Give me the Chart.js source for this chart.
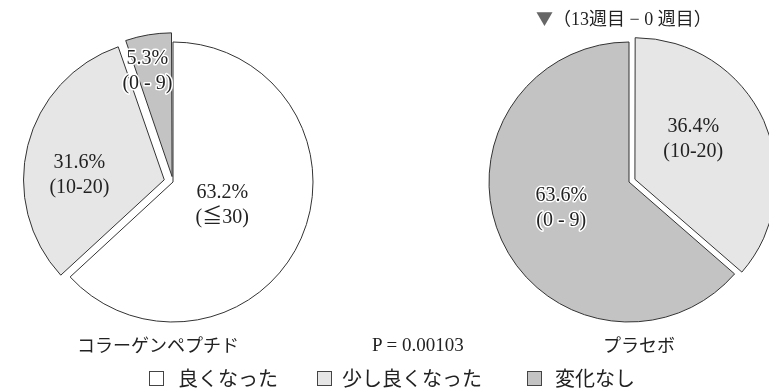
<!DOCTYPE html>
<html>
<head>
<meta charset="utf-8">
<script src="https://cdn.jsdelivr.net/npm/chart.js@4/dist/chart.umd.min.js"></script>
<style>
  html, body { margin: 0; padding: 0; background: #fff; }
  #wrap { position: relative; width: 769px; height: 390px; overflow: hidden; background: #fff; }
  canvas { position: absolute; }
  .t { position: absolute; white-space: nowrap; color: #222; font-family: "Liberation Serif", "Noto Sans CJK JP", serif; }
  .jp { font-family: "Noto Sans CJK JP", sans-serif; }
  .box { position: absolute; width: 13px; height: 13px; border: 1px solid #444; }
</style>
</head>
<body>
<div id="wrap">
  <canvas id="collagenChart" width="340" height="340" style="left:3px;top:12px"></canvas>
  <canvas id="placeboChart" width="340" height="340" style="left:459px;top:12px"></canvas>

  <div class="t" style="left:536px;top:9px;font-size:18px;line-height:18px"><span class="jp" style="color:#666;font-size:17px">▼</span>（13週目 − 0 週目）</div>

  <div class="t jp" style="left:77px;top:335px;font-size:18px;line-height:18px">コラーゲンペプチド</div>
  <div class="t" style="left:372px;top:335px;font-size:19px;line-height:19px">P = 0.00103</div>
  <div class="t jp" style="left:603px;top:335px;font-size:18px;line-height:18px">プラセボ</div>

  <div class="box" style="left:149px;top:371px;background:#fff"></div>
  <div class="t jp" style="left:178px;top:368px;font-size:20px;line-height:20px">良くなった</div>
  <div class="box" style="left:317px;top:371px;background:#e6e6e6"></div>
  <div class="t jp" style="left:342px;top:368px;font-size:20px;line-height:20px">少し良くなった</div>
  <div class="box" style="left:527px;top:371px;background:#c3c3c3"></div>
  <div class="t jp" style="left:555px;top:368px;font-size:20px;line-height:20px">変化なし</div>
</div>

<script>
// 区分
const categories = ['良くなった', '少し良くなった', '変化なし'];

// コラーゲンペプチド群
const collagenValues = [63.2, 31.6, 5.3];
const collagenRanges = ['(≦30)', '(10-20)', '(0 - 9)'];

// プラセボ群
const placeboValues = [0, 36.4, 63.6];
const placeboRanges = ['', '(10-20)', '(0 - 9)'];

const sliceColors = ['#ffffff', '#e6e6e6', '#c3c3c3'];

// ラベル位置: [半径の割合, 角度のずらし(度)]
const collagenPlace = [[0.39, 2], [0.67, -10], [0.81, -3.5]];
const placeboPlace = [[0, 0], [0.55, -9], [0.52, 3]];

// Chart.js v4 は offset を 1/4 にして描くので 4 倍で指定
const collagenOffsets = [0, 36, 22];
const placeboOffsets = [0, 26, 0];

const sliceLabels = {
    id: 'sliceLabels',
    afterDatasetsDraw(chart, args, opts) {
        const ctx = chart.ctx;
        const meta = chart.getDatasetMeta(0);
        const values = chart.data.datasets[0].data;
        meta.data.forEach(function(arc, i) {
            const v = values[i];
            if (!v) return;
            const p = arc.getProps(['x', 'y', 'startAngle', 'endAngle', 'outerRadius'], true);
            const a = (p.startAngle + p.endAngle) / 2 + opts.place[i][1] * Math.PI / 180;
            const r = p.outerRadius * opts.place[i][0];
            const cx = p.x + Math.cos(a) * r;
            const cy = p.y + Math.sin(a) * r;
            const lines = [v.toFixed(1) + '%', opts.ranges[i]];
            ctx.save();
            ctx.font = '20px "Liberation Serif", "Noto Sans CJK JP", serif';
            ctx.textAlign = 'center';
            ctx.textBaseline = 'middle';
            ctx.lineJoin = 'round';
            lines.forEach(function(t, k) {
                const y = cy + (k - 0.5) * 25;
                if (opts.halo[i]) {
                    ctx.strokeStyle = '#fff';
                    ctx.lineWidth = 3;
                    ctx.strokeText(t, cx, y);
                }
                ctx.fillStyle = '#222';
                ctx.fillText(t, cx, y);
            });
            ctx.restore();
        });
    }
};

function crearPie(id, values, offsets, ranges, place, halo) {
    return new Chart(document.getElementById(id), {
        type: 'pie',
        data: {
            labels: categories,
            datasets: [{
                data: values,
                backgroundColor: sliceColors,
                borderColor: '#333',
                borderWidth: 1,
                offset: offsets,
                hoverOffset: 0
            }]
        },
        options: {
            responsive: false,
            animation: false,
            events: [],
            radius: 140,
            layout: { padding: 0 },
            plugins: {
                legend: { display: false },
                tooltip: { enabled: false },
                sliceLabels: { ranges: ranges, place: place, halo: halo }
            }
        },
        plugins: [sliceLabels]
    });
}

crearPie('collagenChart', collagenValues, collagenOffsets, collagenRanges, collagenPlace, [false, false, true]);
crearPie('placeboChart', placeboValues, placeboOffsets, placeboRanges, placeboPlace, [false, false, true]);
</script>
</body>
</html>
